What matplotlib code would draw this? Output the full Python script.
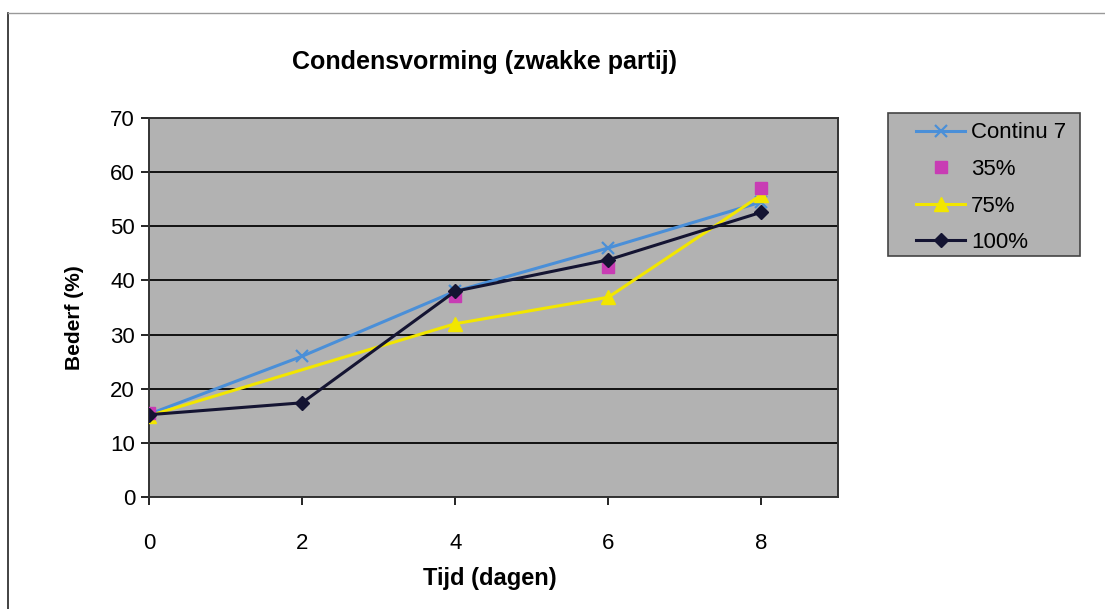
import numpy as np
import matplotlib
matplotlib.use("Agg")
import matplotlib.pyplot as plt
from matplotlib.patches import Rectangle
from matplotlib.lines import Line2D

plt.rcParams['font.family'] = ['Liberation Sans', 'DejaVu Sans']

# Measurements (days vs. spoilage %)
days_continu = [0, 2, 4, 6, 8]
continu7 = [15.3, 26.0, 38.0, 46.0, 54.5]

days_35 = [0, 4, 6, 8]
pct35 = [15.5, 37.2, 42.5, 57.0]

days_75 = [0, 4, 6, 8]
pct75 = [15.0, 32.0, 36.9, 55.8]

days_100 = [0, 2, 4, 6, 8]
pct100 = [15.2, 17.4, 38.0, 43.8, 52.6]

x_ticks = [0, 2, 4, 6, 8]
y_ticks = [0, 10, 20, 30, 40, 50, 60, 70]

W, H = 1105, 609
fig = plt.figure(figsize=(W / 100, H / 100), dpi=100)
fig.patch.set_facecolor('white')

def fx(px):
    return px / W

def fy(py):
    return 1 - py / H

# outer chart border (left and top edges visible)
fig.add_artist(Line2D([fx(8), fx(8)], [fy(13), fy(609)], transform=fig.transFigure,
                      color='#222222', linewidth=1.2))
fig.add_artist(Line2D([fx(8), fx(1105)], [fy(13), fy(13)], transform=fig.transFigure,
                      color='#999999', linewidth=1.0))

ax = fig.add_axes([fx(149), fy(497), fx(838 - 149), (497 - 118) / H])
ax.set_facecolor('#b2b2b2')

ax.plot(days_continu, continu7, color='#4a8fd8', marker='x', markersize=9,
        markeredgewidth=1.6, linewidth=2.2, label='Continu 7', zorder=3)
ax.plot(days_35, pct35, color='#c83cb4', marker='s', markersize=8,
        linestyle='none', label='35%', zorder=4)
ax.plot(days_75, pct75, color='#f2e600', marker='^', markersize=10,
        linewidth=2.2, label='75%', zorder=3)
ax.plot(days_100, pct100, color='#141432', marker='D', markersize=7,
        linewidth=2.2, label='100%', zorder=5)

ax.set_xlim(0, 9)
ax.set_ylim(0, 70)
ax.set_xticks(x_ticks)
ax.set_yticks(y_ticks)
ax.tick_params(axis='both', labelsize=16, direction='out', length=6, width=1.2,
               colors='black')
ax.tick_params(axis='x', pad=20)
ax.tick_params(axis='y', pad=4)
ax.yaxis.grid(True, color='#111111', linewidth=1.4)
ax.set_axisbelow(True)
for s in ax.spines.values():
    s.set_color('#333333')
    s.set_linewidth(1.4)

fig.text(fx(490), fy(578), 'Tijd (dagen)', fontsize=17, fontweight='bold',
         ha='center', va='center')
fig.text(fx(75), fy(318), 'Bederf (%)', fontsize=15, fontweight='bold',
         ha='center', va='center', rotation=90)
fig.text(fx(485), fy(62), 'Condensvorming (zwakke partij)', fontsize=18,
         fontweight='bold', ha='center', va='center')

# legend box
fig.add_artist(Rectangle((fx(888), fy(256)), fx(1080 - 888), (256 - 113) / H,
                         transform=fig.transFigure, facecolor='#b2b2b2',
                         edgecolor='#444444', linewidth=1.2))
handles, labels = ax.get_legend_handles_labels()
leg = fig.legend(handles, labels, loc='upper left',
                 bbox_to_anchor=(fx(912), fy(118)), frameon=False,
                 fontsize=16, borderpad=0.2, borderaxespad=0,
                 handlelength=2.2, labelspacing=0.7, handletextpad=0.25)

fig.savefig('out.png', dpi=100)
